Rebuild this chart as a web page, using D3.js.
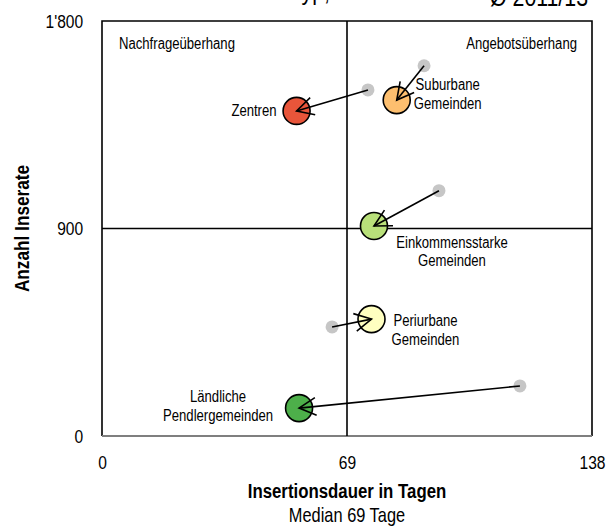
<!DOCTYPE html>
<html lang="de">
<head>
<meta charset="utf-8">
<title>Insertionsdauer und Anzahl Inserate nach Gemeindetyp</title>
<script src="https://cdn.jsdelivr.net/npm/d3@7"></script>
<style>
  body { margin: 0; background: #fff; }
  text { font-family: "Liberation Sans", Arial, sans-serif; fill: #000; }
</style>
</head>
<body>
<svg width="607" height="528"></svg>
<script>
// Werte
var gemeindetypen = ["Zentren", "Suburbane Gemeinden", "Einkommensstarke Gemeinden", "Periurbane Gemeinden", "Ländliche Pendlergemeinden"];
var dauerAlt    = [74.9, 90.7, 94.9, 64.8, 117.7];
var inserateAlt = [1501, 1606, 1064, 473, 217];
var dauerNeu    = [54.8, 83.0, 76.6, 75.9, 55.5];
var inserateNeu = [1410, 1457, 911, 507, 121];
var farben = ["#e8553a", "#fdbf6f", "#b9e07a", "#ffffc0", "#4daf4a"];
var xTicks = [0, 69, 138];
var yTicks = [0, 900, 1800];
var medianDauer = 69, medianInserate = 900;

var svg = d3.select("svg"),
    margin = {top: 21, right: 15, bottom: 92, left: 102},
    width = 607 - margin.left - margin.right,
    height = 528 - margin.top - margin.bottom;

var narrow = 0.82; // schmale Schrift

var x = d3.scaleLinear().domain([0, 138]).range([margin.left, margin.left + width]);
var y = d3.scaleLinear().domain([0, 1800]).range([margin.top + height, margin.top]);

var loc = d3.formatLocale({decimal: ".", thousands: "'", grouping: [3], currency: ["", ""]});
var fmt = loc.format(",");

function label(g, px, py, lines, anchor, size, weight, lineH) {
  var t = g.append("text")
      .attr("transform", "translate(" + px + "," + py + ") scale(" + narrow + ",1)")
      .attr("text-anchor", anchor)
      .style("font-size", size + "px")
      .style("font-weight", weight || "normal");
  lines.forEach(function(l, i) {
    t.append("tspan").attr("x", 0).attr("y", i * (lineH || 0)).text(l);
  });
  return t;
}

// abgeschnittene Kopfzeile
label(svg, 330, 0, ["Inserate und Insertionsdauer nach Gemeindetyp,"], "end", 26);
label(svg, 588, 6, ["Ø 2011/13"], "end", 26);

// Rahmen
var frame = svg.append("g");
frame.append("path")
    .attr("d", "M" + x(0) + "," + y(0) + "V" + y(1800) + "H" + x(138) + "V" + y(0))
    .attr("fill", "none").attr("stroke", "#000").attr("stroke-width", 1.6);
frame.append("line")
    .attr("x1", x(0)).attr("x2", x(138)).attr("y1", y(0)).attr("y2", y(0))
    .attr("stroke", "#7f7f7f").attr("stroke-width", 2.2);

// Median-Linien
frame.append("line")
    .attr("x1", x(medianDauer)).attr("x2", x(medianDauer)).attr("y1", y(1800)).attr("y2", y(0))
    .attr("stroke", "#000").attr("stroke-width", 1.6);
frame.append("line")
    .attr("x1", x(0)).attr("x2", x(138)).attr("y1", y(medianInserate)).attr("y2", y(medianInserate))
    .attr("stroke", "#000").attr("stroke-width", 1.6);

// Achsen
var xAxis = svg.append("g")
    .attr("transform", "translate(0," + y(0) + ")")
    .call(d3.axisBottom(x).tickValues(xTicks).tickSize(0).tickPadding(20).tickFormat(fmt));
var yAxis = svg.append("g")
    .attr("transform", "translate(" + x(0) + ",0)")
    .call(d3.axisLeft(y).tickValues(yTicks).tickSize(0).tickPadding(23).tickFormat(fmt));
[xAxis, yAxis].forEach(function(a) {
  a.select(".domain").remove();
  a.selectAll("text")
      .attr("fill", "#000")
      .style("font-family", "'Liberation Sans', Arial, sans-serif")
      .style("font-size", "19px")
      .attr("transform", "scale(" + narrow + ",1)");
});

// Quadranten
label(svg, 119, 49, ["Nachfrageüberhang"], "start", 16);
label(svg, 577, 49, ["Angebotsüberhang"], "end", 16);

// Punkte
svg.append("g").selectAll("circle").data(gemeindetypen).join("circle")
    .attr("cx", function(d, i) { return x(dauerAlt[i]); })
    .attr("cy", function(d, i) { return y(inserateAlt[i]); })
    .attr("r", 6.5)
    .attr("fill", "#c6c6c6");

svg.append("g").selectAll("circle").data(gemeindetypen).join("circle")
    .attr("cx", function(d, i) { return x(dauerNeu[i]); })
    .attr("cy", function(d, i) { return y(inserateNeu[i]); })
    .attr("r", 13.5)
    .attr("fill", function(d, i) { return farben[i]; })
    .attr("stroke", "#000")
    .attr("stroke-width", 1.6);

// Pfeile von alt nach neu
var arrows = svg.append("g").attr("stroke", "#000").attr("stroke-width", 1.6).attr("fill", "none");
gemeindetypen.forEach(function(d, i) {
  var x1 = x(dauerAlt[i]), y1 = y(inserateAlt[i]),
      x2 = x(dauerNeu[i]), y2 = y(inserateNeu[i]);
  var a = Math.atan2(y1 - y2, x1 - x2), len = 19, w = 28 * Math.PI / 180;
  arrows.append("line").attr("x1", x1).attr("y1", y1).attr("x2", x2).attr("y2", y2);
  arrows.append("path")
      .attr("d", "M" + (x2 + len * Math.cos(a - w)) + "," + (y2 + len * Math.sin(a - w)) +
                 "L" + x2 + "," + y2 +
                 "L" + (x2 + len * Math.cos(a + w)) + "," + (y2 + len * Math.sin(a + w)));
});

// Beschriftungen der Gemeindetypen (Versatz zum neuen Punkt)
var labelPos = [
  {dx: -20, dy: 5,   anchor: "end",    lines: ["Zentren"]},
  {dx: 51,  dy: -10, anchor: "middle", lines: ["Suburbane", "Gemeinden"]},
  {dx: 78,  dy: 22,  anchor: "middle", lines: ["Einkommensstarke", "Gemeinden"]},
  {dx: 54,  dy: 7,   anchor: "middle", lines: ["Periurbane", "Gemeinden"]},
  {dx: -81, dy: -6,  anchor: "middle", lines: ["Ländliche", "Pendlergemeinden"]}
];
var lab = svg.append("g");
labelPos.forEach(function(p, i) {
  label(lab, x(dauerNeu[i]) + p.dx, y(inserateNeu[i]) + p.dy, p.lines, p.anchor, 16, "normal", 18.5);
});

// Achsentitel
label(svg, x(69), 498, ["Insertionsdauer in Tagen"], "middle", 20.5, "bold");
label(svg, x(69), 522, ["Median 69 Tage"], "middle", 20);
svg.append("text")
    .attr("transform", "translate(29," + y(900) + ") rotate(-90) scale(" + narrow + ",1)")
    .attr("text-anchor", "middle")
    .style("font-size", "21px")
    .style("font-weight", "bold")
    .text("Anzahl Inserate");
</script>
</body>
</html>
